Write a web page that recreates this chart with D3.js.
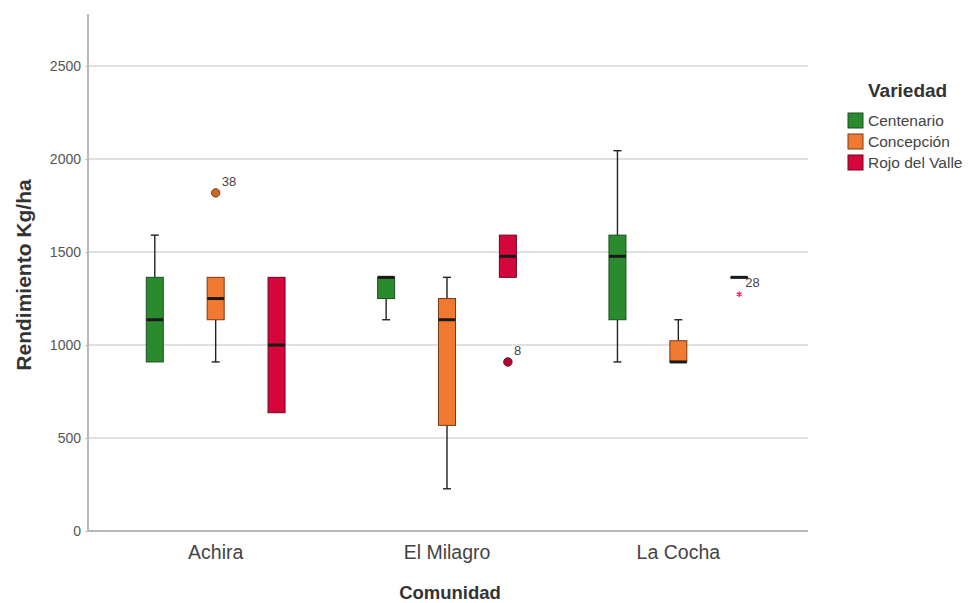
<!DOCTYPE html>
<html>
<head>
<meta charset="utf-8">
<script src="https://cdn.jsdelivr.net/npm/d3@7"></script>
<style>
  html, body { margin: 0; padding: 0; background: #fff; }
  svg { display: block; font-family: "Liberation Sans", Arial, sans-serif; }
</style>
</head>
<body>
<svg id="chart" width="970" height="603"></svg>
<script>
// Grain yield (kg/ha) by community and potato variety — box-plot summaries
const communities = ["Achira", "El Milagro", "La Cocha"];
const varieties = ["Centenario", "Concepción", "Rojo del Valle"];
const varietyColors = ["#2b8a2e", "#f07a32", "#d5063c"];
const varietyStroke = ["#1d4f1d", "#7a3a12", "#6e0620"];

// one row per community, one column per variety
const whiskerLow  = [[909, 909, 636], [1136, 227, 1364], [909, 909, 1364]];
const q1          = [[909, 1136, 636], [1250, 568, 1364], [1136, 909, 1364]];
const medians     = [[1136, 1250, 1000], [1364, 1136, 1477], [1477, 909, 1364]];
const q3          = [[1364, 1364, 1364], [1364, 1250, 1591], [1591, 1023, 1364]];
const whiskerHigh = [[1591, 1364, 1364], [1364, 1364, 1591], [2045, 1136, 1364]];

// outlying cases (circle = outlier, star = extreme) with case numbers
const outlierCommunity = ["Achira", "El Milagro", "La Cocha"];
const outlierVariety   = ["Concepción", "Rojo del Valle", "Rojo del Valle"];
const outlierValue     = [1818, 909, 1273];
const outlierCase      = ["38", "8", "28"];
const outlierKind      = ["circle", "circle", "star"];

const yTicks = [0, 500, 1000, 1500, 2000, 2500];

const svg = d3.select("#chart");
const plot = { left: 88, right: 808, top: 14, bottom: 531 };

const y = d3.scaleLinear().domain([0, 2780]).range([plot.bottom, plot.top]);
const x = d3.scaleBand().domain(communities).range([100, 794]);
const xs = d3.scalePoint().domain(varieties).range([0, x.bandwidth()]).padding(0.9);
const boxW = 17, capW = 8;

// gridlines
svg.append("g").selectAll("line").data(yTicks.filter(d => d > 0)).join("line")
  .attr("x1", plot.left).attr("x2", plot.right)
  .attr("y1", d => y(d)).attr("y2", d => y(d))
  .attr("stroke", "#d6d6d6").attr("stroke-width", 1.6);

// y axis
const yAxis = svg.append("g").attr("transform", `translate(${plot.left},0)`)
  .call(d3.axisLeft(y).tickValues(yTicks).tickSize(3).tickPadding(4).tickFormat(d3.format("d")));
yAxis.select(".domain").remove();
yAxis.selectAll(".tick line").attr("stroke", "#c8c8c8");
yAxis.selectAll(".tick text").attr("fill", "#555").style("font-size", "14px")
  .style("font-family", "'Liberation Sans', Arial, sans-serif");
svg.append("line").attr("x1", plot.left).attr("x2", plot.left)
  .attr("y1", plot.top).attr("y2", plot.bottom + 1)
  .attr("stroke", "#b8b8b8").attr("stroke-width", 2);

// x axis
const xAxis = svg.append("g").attr("transform", `translate(0,${plot.bottom})`)
  .call(d3.axisBottom(x).tickSize(0).tickPadding(14));
xAxis.select(".domain").remove();
xAxis.selectAll(".tick text").attr("fill", "#444").style("font-size", "19.5px")
  .style("font-family", "'Liberation Sans', Arial, sans-serif");
svg.append("line").attr("x1", plot.left - 1).attr("x2", plot.right)
  .attr("y1", plot.bottom).attr("y2", plot.bottom)
  .attr("stroke", "#b8b8b8").attr("stroke-width", 2);

// axis titles
svg.append("text").attr("x", 450).attr("y", 599).attr("text-anchor", "middle")
  .attr("font-weight", "bold").attr("font-size", 18.5).attr("fill", "#333").text("Comunidad");
svg.append("text").attr("transform", "translate(31,275) rotate(-90)").attr("text-anchor", "middle")
  .attr("font-weight", "bold").attr("font-size", 21).attr("fill", "#333").text("Rendimiento Kg/ha");

// box summaries
const boxes = [];
communities.forEach((c, i) => varieties.forEach((v, j) => boxes.push({
  c, v, j, lo: whiskerLow[i][j], q1: q1[i][j], med: medians[i][j], q3: q3[i][j], hi: whiskerHigh[i][j]
})));

const g = svg.append("g").selectAll("g").data(boxes).join("g")
  .attr("transform", d => `translate(${x(d.c) + xs(d.v)},0)`);

// whiskers
g.filter(d => d.hi > d.q3).append("line")
  .attr("y1", d => y(d.q3)).attr("y2", d => y(d.hi))
  .attr("stroke", "#222").attr("stroke-width", 1.4);
g.filter(d => d.hi > d.q3).append("line")
  .attr("x1", -capW / 2).attr("x2", capW / 2).attr("y1", d => y(d.hi)).attr("y2", d => y(d.hi))
  .attr("stroke", "#222").attr("stroke-width", 1.4);
g.filter(d => d.lo < d.q1).append("line")
  .attr("y1", d => y(d.q1)).attr("y2", d => y(d.lo))
  .attr("stroke", "#222").attr("stroke-width", 1.4);
g.filter(d => d.lo < d.q1).append("line")
  .attr("x1", -capW / 2).attr("x2", capW / 2).attr("y1", d => y(d.lo)).attr("y2", d => y(d.lo))
  .attr("stroke", "#222").attr("stroke-width", 1.4);

// boxes
g.append("rect")
  .attr("x", -boxW / 2).attr("width", boxW)
  .attr("y", d => y(d.q3)).attr("height", d => Math.max(0.5, y(d.q1) - y(d.q3)))
  .attr("fill", d => varietyColors[d.j]).attr("stroke", d => varietyStroke[d.j]).attr("stroke-width", 1);

// medians
g.append("line")
  .attr("x1", -boxW / 2).attr("x2", boxW / 2)
  .attr("y1", d => y(d.med)).attr("y2", d => y(d.med))
  .attr("stroke", "#1a1a1a").attr("stroke-width", 3);

// outlying cases
const outliers = outlierValue.map((v, k) => ({
  c: outlierCommunity[k], v: outlierVariety[k], value: v, label: outlierCase[k], kind: outlierKind[k],
  j: varieties.indexOf(outlierVariety[k])
}));
const og = svg.append("g").selectAll("g").data(outliers).join("g")
  .attr("transform", d => `translate(${x(d.c) + xs(d.v)},${y(d.value)})`);
og.filter(d => d.kind === "circle").append("circle").attr("r", 4.2)
  .attr("fill", d => d3.color(varietyColors[d.j]).darker(0.5)).attr("stroke", d => varietyStroke[d.j]).attr("stroke-width", 1);
og.filter(d => d.kind === "star").append("path")
  .attr("d", d3.symbol(d3.symbolAsterisk, 22))
  .attr("stroke", d => d3.color(varietyColors[d.j]).brighter(0.6)).attr("stroke-width", 1.2).attr("fill", "none");
og.append("text")
  .attr("x", 6).attr("y", -7)
  .attr("font-size", 13).attr("fill", "#444").text(d => d.label);

// legend
const lg = svg.append("g").attr("transform", "translate(846,0)");
lg.append("text").attr("x", 22).attr("y", 97).attr("font-weight", "bold").attr("font-size", 19)
  .attr("fill", "#333").text("Variedad");
const li = lg.selectAll("g.item").data(varieties).join("g").attr("class", "item")
  .attr("transform", (d, i) => `translate(2,${113 + i * 21})`);
li.append("rect").attr("width", 15).attr("height", 15)
  .attr("fill", (d, i) => varietyColors[i]).attr("stroke", (d, i) => varietyStroke[i]).attr("stroke-width", 1);
li.append("text").attr("x", 20).attr("y", 13).attr("font-size", 15.5).attr("fill", "#444").text(d => d);
</script>
</body>
</html>
